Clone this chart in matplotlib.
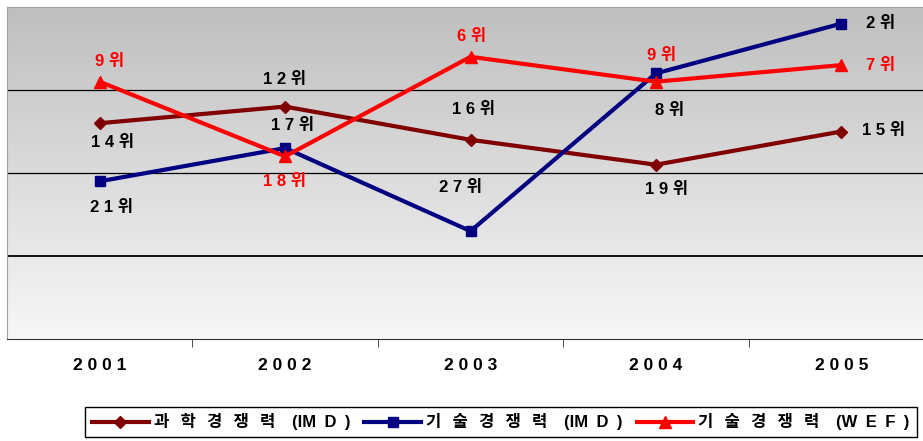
import numpy as np
import matplotlib.pyplot as plt
from matplotlib.colors import LinearSegmentedColormap

plt.rcParams['font.family'] = ['Liberation Sans', 'Noto Sans CJK KR', 'DejaVu Sans']

# ranks by year (lower is better)
years = ['2001', '2002', '2003', '2004', '2005']
science_imd = [14, 12, 16, 19, 15]
tech_imd = [21, 17, 27, 8, 2]
tech_wef = [9, 18, 6, 9, 7]
series_names = ['과학경쟁력', '기술경쟁력', '기술경쟁력']
sources = ['IM D', 'IM D', 'W E F']

colors = ['#800000', '#000080', '#ff0000']
markers = ['D', 's', '^']
msizes = [6.5, 7, 9]
label_colors = ['black', 'black', 'red']

# data label offsets in pixels (dx, dy)
label_offsets = [
    [(13, -19), (-1, 27), (3, 30), (11, -25), (42, 1)],
    [(12, -26), (7, 23), (-10, 44), (14, -37), (39, 0)],
    [(10, 20), (-1, -25), (1, 20), (6, 26), (39, 0)],
]

EM, EN, SIX = '\u2003', '\u2002', '\u2006'


def spaced(s):
    return ' '.join(s)


def legend_label(name, src):
    return (EN + SIX).join(name) + EM + '(' + src.replace(' ', EN) + EN + ')'


fig = plt.figure(figsize=(9.23, 4.41), dpi=100)
ax = fig.add_axes([7 / 923, 1 - 339 / 441, 927 / 923, 332 / 441])

# grey-to-white background gradient
grad = LinearSegmentedColormap.from_list('bg', ['#bfbfbf', '#f7f7f7'])
ax.imshow(np.linspace(0, 1, 256).reshape(-1, 1), cmap=grad, aspect='auto',
          extent=(-0.5, 4.5, 40, 0), zorder=0)

for r in (10, 20, 30):
    ax.axhline(r, color='black', lw=1.3 if r == 30 else 0.9, zorder=1)

x = np.arange(len(years))
handles = []
for i, vals in enumerate([science_imd, tech_imd, tech_wef]):
    h, = ax.plot(x, vals, color=colors[i], lw=3, marker=markers[i],
                 ms=msizes[i], zorder=3 + i,
                 label=legend_label(series_names[i], sources[i]))
    handles.append(h)
    for j, v in enumerate(vals):
        dx, dy = label_offsets[i][j]
        ax.annotate(spaced(str(v)) + ' 위', (x[j], v), xytext=(dx, dy),
                    textcoords='offset pixels', ha='center', va='center',
                    fontsize=12, fontweight='bold', color=label_colors[i],
                    zorder=10)

ax.set_xlim(-0.5, 4.5)
ax.set_ylim(40, 0)
ax.set_yticks([])
ax.set_xticks(x)
ax.set_xticklabels([spaced(y) for y in years], fontsize=12.5, fontweight='bold')
ax.tick_params(axis='x', which='major', length=0, pad=14)
ax.set_xticks([0.5, 1.5, 2.5, 3.5], minor=True)
ax.tick_params(axis='x', which='minor', length=6, direction='out',
               color='#303030')

for side in ('top', 'left'):
    ax.spines[side].set_color('#a0a0a0')
ax.spines['bottom'].set_color('#303030')
ax.spines['right'].set_visible(False)

leg = fig.legend(handles=handles, loc='center',
                 bbox_to_anchor=(501 / 923, 1 - 422 / 441), ncol=3,
                 fancybox=False, edgecolor='black', framealpha=1,
                 handlelength=3.4, handletextpad=0.3, columnspacing=0.85,
                 borderpad=0.4, prop=dict(size=12, weight='bold'))
leg.get_frame().set_linewidth(1.0)

fig.savefig('out.png', dpi=100)
